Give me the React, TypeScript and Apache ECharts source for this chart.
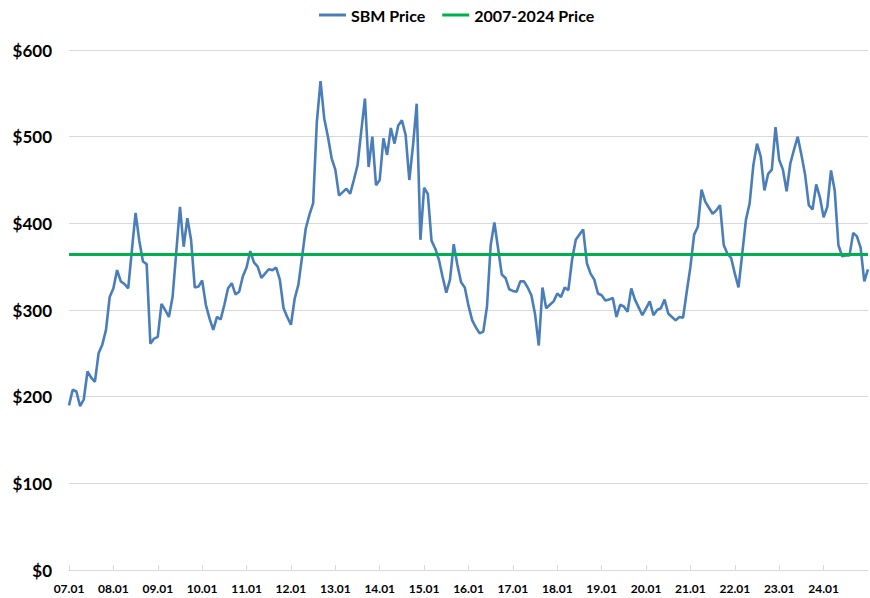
import React, { useEffect, useRef } from "react";
import * as echarts from "echarts";

// Year prefixes (YY) used to build monthly category labels "YY.MM"
const YEARS = ["07", "08", "09", "10", "11", "12", "13", "14", "15", "16", "17", "18", "19", "20", "21", "22", "23", "24", "25"];
const MONTHS = ["01", "02", "03", "04", "05", "06", "07", "08", "09", "10", "11", "12"];

// Monthly SBM price ($/short ton), Jan 2007 .. Jan 2025
const SBM_2007 = [190, 208, 206, 189, 197, 229, 222, 217, 250, 260, 277, 315];
const SBM_2008 = [325, 346, 333, 330, 325, 369, 412, 380, 356, 353, 261, 267];
const SBM_2009 = [269, 307, 300, 292, 315, 367, 419, 373, 406, 381, 326, 327];
const SBM_2010 = [334, 306, 290, 277, 292, 289, 306, 325, 331, 318, 321, 339];
const SBM_2011 = [349, 368, 355, 350, 337, 342, 347, 346, 349, 335, 302, 292];
const SBM_2012 = [283, 313, 329, 361, 394, 410, 423, 517, 564, 521, 500, 475];
const SBM_2013 = [462, 432, 436, 440, 434, 450, 467, 506, 544, 465, 500, 444];
const SBM_2014 = [450, 498, 479, 510, 492, 513, 519, 502, 450, 490, 538, 381];
const SBM_2015 = [441, 434, 380, 371, 358, 338, 320, 335, 376, 352, 332, 326];
const SBM_2016 = [305, 288, 280, 273, 275, 304, 375, 401, 371, 341, 337, 324];
const SBM_2017 = [322, 321, 333, 333, 326, 317, 295, 259, 326, 302, 306, 310];
const SBM_2018 = [319, 315, 326, 323, 358, 381, 387, 393, 354, 342, 335, 319];
const SBM_2019 = [317, 311, 312, 314, 292, 306, 304, 298, 325, 312, 303, 294];
const SBM_2020 = [302, 310, 294, 300, 302, 312, 296, 292, 288, 292, 291, 321];
const SBM_2021 = [350, 387, 396, 439, 425, 418, 411, 415, 421, 375, 365, 360];
const SBM_2022 = [342, 326, 365, 404, 423, 467, 492, 477, 438, 457, 462, 511];
const SBM_2023 = [473, 462, 437, 469, 485, 500, 479, 456, 421, 416, 445, 430];
const SBM_2024 = [407, 419, 461, 438, 375, 362, 363, 363, 389, 385, 372, 333];
const SBM_2025 = [347];

// 2007-2024 average price
const AVG_PRICE = 364;

const SBM_PRICE = [
  ...SBM_2007, ...SBM_2008, ...SBM_2009, ...SBM_2010, ...SBM_2011, ...SBM_2012,
  ...SBM_2013, ...SBM_2014, ...SBM_2015, ...SBM_2016, ...SBM_2017, ...SBM_2018,
  ...SBM_2019, ...SBM_2020, ...SBM_2021, ...SBM_2022, ...SBM_2023, ...SBM_2024, ...SBM_2025,
];

const CATEGORIES: string[] = [];
YEARS.forEach((y) => MONTHS.forEach((m) => CATEGORIES.push(`${y}.${m}`)));
CATEGORIES.length = SBM_PRICE.length;

const LAST_LABELED = "24.01";
const LAST_LABEL_INDEX = CATEGORIES.indexOf(LAST_LABELED);

const FONT = 'Lato, "Open Sans", sans-serif';

export default function App() {
  const ref = useRef<HTMLDivElement>(null);
  useEffect(() => {
    if (!ref.current) return;
    const chart = echarts.init(ref.current, undefined, { renderer: "svg" });
    const showTick = (i: number) => i % 12 === 0 && i <= LAST_LABEL_INDEX;
    chart.setOption({
      animation: false,
      backgroundColor: "#ffffff",
      textStyle: { fontFamily: FONT },
      legend: {
        top: 2,
        left: 314,
        itemGap: 17,
        itemWidth: 27,
        itemHeight: 3,
        icon: "rect",
        textStyle: { fontFamily: FONT, fontSize: 16, fontWeight: "bold", color: "#000" },
        data: ["SBM Price", "2007-2024 Price"],
      },
      grid: { left: 69, right: 2, top: 50, bottom: 28, containLabel: false, outerBoundsMode: "none" },
      xAxis: {
        type: "category",
        data: CATEGORIES,
        boundaryGap: false,
        axisLine: { show: true, lineStyle: { color: "#d9d9d9", width: 1 } },
        axisTick: { show: true, interval: showTick, inside: true, length: 5, lineStyle: { color: "#d9d9d9" } },
        axisLabel: {
          interval: showTick,
          margin: 12,
          fontFamily: FONT,
          fontSize: 12,
          fontWeight: "bold",
          color: "#000",
          hideOverlap: false,
        },
        splitLine: { show: false },
      },
      yAxis: {
        type: "value",
        min: 0,
        max: 600,
        interval: 100,
        axisLine: { show: false },
        axisTick: { show: false },
        axisLabel: {
          margin: 17,
          fontFamily: FONT,
          fontSize: 17,
          fontWeight: "bold",
          color: "#000",
          formatter: (v: number) => `$${v}`,
        },
        splitLine: { show: true, lineStyle: { color: "#d9d9d9", width: 1 } },
      },
      series: [
        {
          name: "SBM Price",
          type: "line",
          data: SBM_PRICE,
          symbol: "none",
          lineStyle: { color: "#4a7ebb", width: 2.6 },
          itemStyle: { color: "#4a7ebb" },
          z: 3,
        },
        {
          name: "2007-2024 Price",
          type: "line",
          data: [],
          symbol: "none",
          lineStyle: { color: "#00b050", width: 3 },
          itemStyle: { color: "#00b050" },
          markLine: {
            silent: true,
            symbol: "none",
            label: { show: false },
            lineStyle: { color: "#00b050", width: 3, type: "solid" },
            data: [{ yAxis: AVG_PRICE }],
          },
          z: 2,
        },
      ],
    });
    return () => chart.dispose();
  }, []);
  return (
    <div
      ref={ref}
      style={{ position: "fixed", left: 0, top: 0, width: 870, height: 598 }}
    />
  );
}
